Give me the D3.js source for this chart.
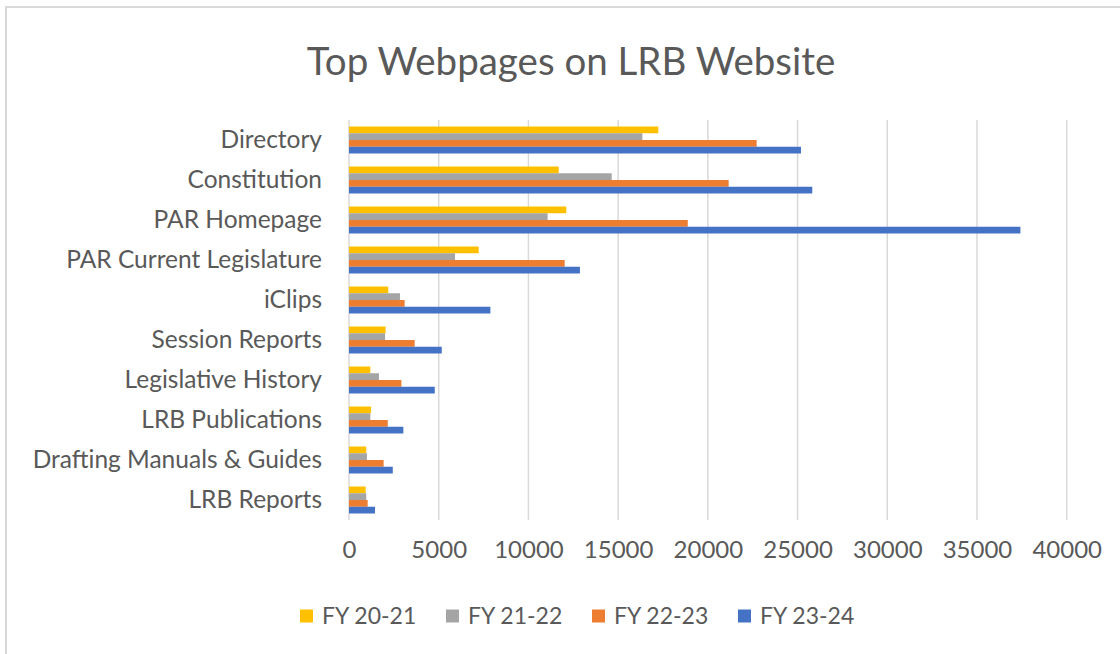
<!DOCTYPE html>
<html>
<head>
<meta charset="utf-8">
<script src="https://cdn.jsdelivr.net/npm/d3@7"></script>
<style>
  body { margin: 0; background: #ffffff; }
  svg text { font-family: Lato, "Open Sans", sans-serif; fill: #595959; }
</style>
</head>
<body>
<div id="chart"></div>
<script>
var categories = ["Directory", "Constitution", "PAR Homepage", "PAR Current Legislature", "iClips",
  "Session Reports", "Legislative History", "LRB Publications", "Drafting Manuals & Guides", "LRB Reports"];
var seriesNames = ["FY 20-21", "FY 21-22", "FY 22-23", "FY 23-24"];
var seriesColors = ["#FFC000", "#A5A5A5", "#ED7D31", "#4472C4"];
var fy2021 = [17240, 11690, 12110, 7230, 2190, 2040, 1190, 1230, 960, 930];
var fy2122 = [16350, 14640, 11070, 5910, 2840, 2010, 1670, 1190, 1000, 960];
var fy2223 = [22720, 21160, 18880, 12020, 3100, 3660, 2920, 2160, 1930, 1040];
var fy2324 = [25190, 25820, 37420, 12870, 7880, 5170, 4780, 3030, 2440, 1450];
var xTicks = [0, 5000, 10000, 15000, 20000, 25000, 30000, 35000, 40000];
var chartTitle = "Top Webpages on LRB Website";

var allSeries = [fy2021, fy2122, fy2223, fy2324];

var width = 1120, height = 654;
var svg = d3.select("#chart").append("svg")
  .attr("width", width)
  .attr("height", height);

// chart frame (only top and left edges visible in the crop)
svg.append("path")
  .attr("d", "M6,660 L6,7 L1130,7")
  .attr("fill", "none")
  .attr("stroke", "#d9d9d9")
  .attr("stroke-width", 2);

var x = d3.scaleLinear()
  .domain([0, 40000])
  .range([349, 1066.7]);

var y = d3.scaleBand()
  .domain(categories)
  .range([120, 520])
  .paddingInner(0.325)
  .paddingOuter(0.1625);

var ySeries = d3.scaleBand()
  .domain(d3.range(seriesNames.length))
  .range([0, y.bandwidth()]);

// gridlines
svg.selectAll(".grid")
  .data(xTicks)
  .enter()
  .append("line")
  .attr("class", "grid")
  .attr("x1", function (d) { return x(d); })
  .attr("x2", function (d) { return x(d); })
  .attr("y1", 120)
  .attr("y2", 520)
  .attr("stroke", "#d9d9d9")
  .attr("stroke-width", 1.5);

// x axis labels
var xAxis = d3.axisBottom(x)
  .tickValues(xTicks)
  .tickFormat(d3.format("d"))
  .tickSize(0)
  .tickPadding(0);

var xg = svg.append("g")
  .attr("transform", "translate(0,541)")
  .call(xAxis);
xg.select(".domain").remove();
xg.selectAll("text")
  .attr("dy", "0.71em")
  .style("font-size", "24px")
  .style("font-family", "Lato, 'Open Sans', sans-serif")
  .attr("fill", "#595959");

// category labels
var yAxis = d3.axisLeft(y)
  .tickSize(0)
  .tickPadding(0);

var yg = svg.append("g")
  .attr("transform", "translate(322,0)")
  .call(yAxis);
yg.select(".domain").remove();
yg.selectAll("text")
  .style("font-size", "24.5px")
  .style("font-family", "Lato, 'Open Sans', sans-serif")
  .attr("fill", "#595959");

// bars
var groups = svg.selectAll(".series")
  .data(allSeries)
  .enter()
  .append("g")
  .attr("class", "series")
  .attr("fill", function (d, i) { return seriesColors[i]; });

groups.each(function (values, si) {
  d3.select(this).selectAll("rect")
    .data(values)
    .enter()
    .append("rect")
    .attr("x", x(0))
    .attr("y", function (d, i) { return y(categories[i]) + ySeries(si); })
    .attr("width", function (d) { return x(d) - x(0); })
    .attr("height", ySeries.bandwidth());
});

// title
svg.append("text")
  .attr("x", 571)
  .attr("y", 75)
  .attr("text-anchor", "middle")
  .style("font-size", "38.5px")
  .text(chartTitle);

// legend
var legendX = [300, 446, 592, 738];
var legend = svg.selectAll(".legend")
  .data(seriesNames)
  .enter()
  .append("g")
  .attr("class", "legend")
  .attr("transform", function (d, i) { return "translate(" + legendX[i] + ",616)"; });

legend.append("rect")
  .attr("x", 0)
  .attr("y", -6.5)
  .attr("width", 13)
  .attr("height", 13)
  .attr("fill", function (d, i) { return seriesColors[i]; });

legend.append("text")
  .attr("x", 22)
  .attr("y", 0)
  .attr("dy", "0.35em")
  .style("font-size", "23px")
  .text(function (d) { return d; });
</script>
</body>
</html>
